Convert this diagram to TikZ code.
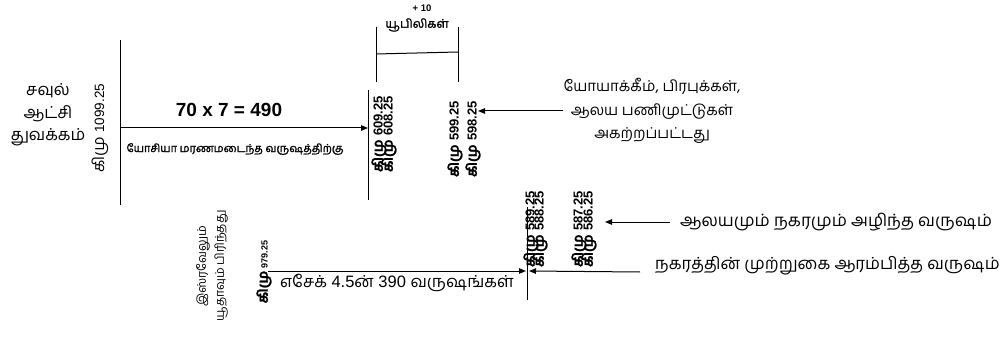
\documentclass[tikz,border=0pt]{standalone}
\usepackage{fontspec}
\setmainfont{Liberation Sans}
\newfontfamily\tamil[Script=Tamil]{Hind Madurai}
\newfontfamily\tamilb[Script=Tamil,FakeBold=1.6]{Hind Madurai}
\usetikzlibrary{arrows.meta}
\newcommand{\fs}[1]{\fontsize{#1}{#1}\selectfont}
\begin{document}
\begin{tikzpicture}[x=1pt,y=-1pt,
  ln/.style={line width=1pt},
  arr/.style={line width=1pt,-{Triangle[length=7pt,width=5.5pt]}},
  txt/.style={inner sep=0pt},
  vt/.style={inner sep=0pt,rotate=90},
  vbold/.style={vt,font=\bfseries\fs{13}}]
\useasboundingbox (0,0) rectangle (1008,339);
% ---- top part ----
\node[txt,align=center,font=\tamil\fontsize{16.5}{22.5}\selectfont] (saul) at (48,115) {சவுல்\\ஆட்சி\\துவக்கம்};
\node[vt,font=\fs{13.5}] (d1099) at (100,128) {{\tamil\fs{16}கிமு} 1099.25};
\coordinate (l1top) at (120,40);
\coordinate (l1bot) at (120,205);
\draw[ln] (l1top) -- (l1bot);
\coordinate (a1s) at (120,128);
\coordinate (l2top) at (368,90);
\coordinate (l2bot) at (368,200);
\draw[ln] (l2top) -- (l2bot);
\coordinate (a1e) at (368,128);
\draw[arr] (a1s) -- (a1e);
\node[txt,font=\bfseries\fs{19}] (calc) at (229,110) {70 x 7 = 490};
\node[txt,font=\tamilb\fs{11}] (josiah) at (235,149) {யோசியா மரணமடைந்த வருஷத்திற்கு};
\node[vbold] (d609) at (379,134) {{\tamilb\fs{14}கிமு} 609.25};
\node[vbold] (d608) at (389,134) {{\tamilb\fs{14}கிமு} 608.25};
\node[vbold] (d599) at (455,139) {{\tamilb\fs{14}கிமு} 599.25};
\node[vbold] (d598) at (473,139) {{\tamilb\fs{14}கிமு} 598.25};
% bracket
\coordinate (b1t) at (376,27);
\coordinate (b1b) at (376,82);
\coordinate (b2t) at (458,27);
\coordinate (b2b) at (458,82);
\coordinate (b1m) at (376,54);
\coordinate (b2m) at (458,52);
\draw[ln] (b1t) -- (b1b);
\draw[ln] (b2t) -- (b2b);
\draw[ln] (b1m) -- (b2m);
\node[txt,font=\bfseries\fs{9.5}] (plus) at (422,8) {+ 10};
\node[txt,font=\tamilb\fs{12}] (jub) at (417,25) {யூபிலிகள்};
% right text
\node[txt,align=center,font=\tamil\fontsize{15}{23.5}\selectfont] (joiakim) at (652,111) {யோயாக்கீம், பிரபுக்கள்,\\ஆலய பணிமுட்டுகள்\\அகற்றப்பட்டது};
\coordinate (a2s) at (563,111);
\coordinate (a2e) at (478,111);
\draw[arr] (a2s) -- (a2e);
% ---- bottom part ----
\node[vt,align=center,font=\tamil\fontsize{12}{18}\selectfont] (split) at (212,266) {இஸ்ரவேலும்\\யூதாவும் பிரிந்தது};
\node[vt,font=\bfseries\fs{9}] (d979) at (264,272) {{\tamilb\fs{14}கிமு} 979.25};
\coordinate (a3s) at (268,271);
\coordinate (l4top) at (527,207);
\coordinate (l4bot) at (527,300);
\draw[ln] (l4top) -- (l4bot);
\coordinate (a3e) at (526,271);
\draw[arr] (a3s) -- (a3e);
\node[txt,font=\fs{16.5}] (ezek) at (397,283) {{\tamil எசேக்} 4.5{\tamil ன்} 390 {\tamil வருஷங்கள்}};
\node[vbold] (d589) at (531,229) {{\tamilb\fs{14}கிமு} 589.25};
\node[vbold] (d588) at (540,229) {{\tamilb\fs{14}கிமு} 588.25};
\node[vbold] (d587) at (579,229) {{\tamilb\fs{14}கிமு} 587.25};
\node[vbold] (d586) at (589,229) {{\tamilb\fs{14}கிமு} 586.25};
\coordinate (a4s) at (670,222);
\coordinate (a4e) at (605,222);
\draw[arr] (a4s) -- (a4e);
\node[txt,anchor=west,font=\tamil\fs{17}] (destroy) at (680,222) {ஆலயமும் நகரமும் அழிந்த வருஷம்};
\coordinate (a5s) at (640,272);
\coordinate (a5e) at (529,271);
\draw[arr] (a5s) -- (a5e);
\node[txt,anchor=west,font=\tamil\fs{16.7}] (siege) at (655,266) {நகரத்தின் முற்றுகை ஆரம்பித்த வருஷம்};
\end{tikzpicture}
\end{document}
